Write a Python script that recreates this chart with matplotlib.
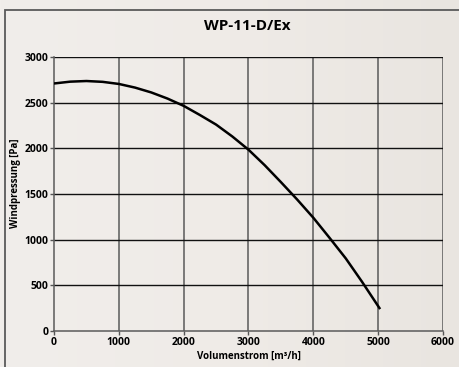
import matplotlib
matplotlib.use("Agg")
import matplotlib.pyplot as plt
import numpy as np
from matplotlib.patches import Rectangle
from matplotlib.colors import LinearSegmentedColormap

flow = [0, 250, 500, 750, 1000, 1250, 1500, 1750, 2000, 2250, 2500, 2750, 3000,
        3250, 3500, 3750, 4000, 4250, 4500, 4750, 5030]
pressure = [2710, 2730, 2737, 2728, 2705, 2665, 2612, 2545, 2465, 2365, 2260, 2130, 1985,
            1815, 1630, 1440, 1240, 1020, 795, 540, 240]
xticks = [0, 1000, 2000, 3000, 4000, 5000, 6000]
yticks = [0, 500, 1000, 1500, 2000, 2500, 3000]

plt.rcParams['font.family'] = ['Open Sans', 'DejaVu Sans']
W, H = 460, 367
bg = '#efebe8'
fig = plt.figure(figsize=(W/100, H/100), dpi=100, facecolor=bg)

# subtle background gradient
bgax = fig.add_axes([0, 0, 1, 1], zorder=-10)
cmap = LinearSegmentedColormap.from_list('bg', ['#f1eeeb', '#efebe7', '#e9e5e0'])
bgax.imshow(np.linspace(0, 1, 256)[None, :], aspect='auto', cmap=cmap, extent=[0, 1, 0, 1])
bgax.set_axis_off()

# outer frame
fig.patches.append(Rectangle((5/W, -0.1), 1.2, 1 - 10/H + 0.1, transform=fig.transFigure,
                             fill=False, edgecolor='#5a5a5a', linewidth=1.3))

ax = fig.add_axes([54/W, 1 - 331/H, (443-54)/W, (331-57)/H])
ax.set_facecolor('none')
ax.set_xlim(0, 6000)
ax.set_ylim(0, 3000)
ax.set_xticks(xticks)
ax.set_yticks(yticks)
ax.set_xticklabels([str(t) for t in xticks], fontsize=7.5, fontweight='bold')
ax.set_yticklabels([str(t) for t in yticks], fontsize=7.5, fontweight='bold')
ax.tick_params(axis='both', length=3, width=1, color='#555555', pad=1)
for x in xticks[1:]:
    ax.axvline(x, color='#5a5a5a', linewidth=1.1, zorder=1)
for y in yticks[1:]:
    ax.axhline(y, color='#111111', linewidth=1.0, zorder=1)
for s in ax.spines.values():
    s.set_color('#5a5a5a')
    s.set_linewidth(1.1)
ax.spines['top'].set_visible(False)
ax.spines['right'].set_visible(False)

ax.plot(flow, pressure, color='black', linewidth=1.8, zorder=3,
        solid_capstyle='butt', solid_joinstyle='round')

ax.set_xlabel('Volumenstrom [m³/h]', fontsize=7, fontweight='bold', labelpad=2)
fig.text(16/W, 1 - 183/H, 'Windpressung [Pa]', rotation=90, ha='center', va='center',
         fontsize=7, fontweight='bold')
fig.text(247/W, 1 - 26/H, 'WP-11-D/Ex', ha='center', va='center', fontsize=11, fontweight='bold')

fig.savefig('out.png', dpi=100, facecolor=bg)
